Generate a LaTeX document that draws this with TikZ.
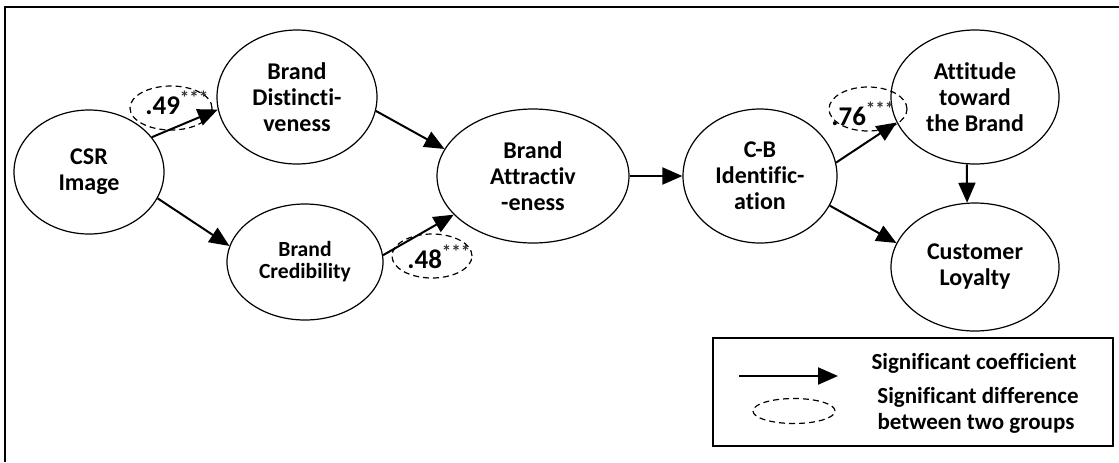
\documentclass[tikz,border=0pt]{standalone}
\usepackage{fontspec}
\setmainfont[Ligatures=NoCommon]{Carlito}
\usetikzlibrary{shapes.geometric,arrows.meta}

\tikzset{
  construct/.style={draw, ellipse, line width=0.6pt, align=center, inner sep=0pt,
    font=\bfseries\fontsize{12}{13}\selectfont},
  path/.style={line width=1pt, -{Triangle[length=10pt,width=8.5pt]}},
  diff/.style={draw, ellipse, dashed, line width=0.6pt, dash pattern=on 3pt off 2pt, inner sep=0pt},
  coef/.style={font=\bfseries\fontsize{13.5}{14}\selectfont, inner sep=0pt, anchor=base west},
  legendtext/.style={font=\bfseries\fontsize{11.5}{13}\selectfont, inner sep=0pt}
}
\newcommand{\stars}{\raisebox{5pt}{\color{black!80}\fontsize{9.5}{9.5}\selectfont ***}}

\begin{document}
\begin{tikzpicture}[x=0.5pt,y=-0.5pt]
\useasboundingbox (0,0) rectangle (1119,462);

% frame
\draw[line width=1pt] (1119,7) -| (5,462);

% constructs
\node[construct, minimum width=75pt, minimum height=62pt] (csr) at (89,172) {CSR\\Image};
\node[construct, minimum width=80pt, minimum height=67pt] (dist) at (297,97) {Brand\\Distincti-\\veness};
\node[construct, minimum width=78pt, minimum height=58pt, font=\bfseries\fontsize{10.8}{11}\selectfont] (cred) at (305,262) {Brand\\Credibility};
\node[construct, minimum width=96pt, minimum height=67pt] (attr) at (533,176) {Brand\\Attractiv\\-eness};
\node[construct, minimum width=77pt, minimum height=67pt] (cb) at (760,176) {C-B\\Identific-\\ation};
\node[construct, minimum width=84pt, minimum height=67pt] (att) at (975,97) {Attitude\\toward\\the Brand};
\node[construct, minimum width=84pt, minimum height=64pt] (loyal) at (975,267) {Customer\\Loyalty};

% paths
\draw[path] (csr.29) -- (dist.189);
\draw[path] (csr.-21) -- (cred.168);
\draw[path] (dist.-10) -- (attr.163);
\draw[path] (cred.5) -- (attr.206);
\draw[path] (attr.east) -- (cb.west);
\draw[path] (cb.10) -- (att.198);
\draw[path] (cb.-23) -- (loyal.163);
\draw[path] (att.263) -- (loyal.97);

% group differences
\node[diff, minimum width=41pt, minimum height=22pt] (d49) at (171,108) {};
\node[diff, minimum width=40pt, minimum height=22pt] (d48) at (432,256) {};
\node[diff, minimum width=39pt, minimum height=22pt] (d76) at (868,109) {};
\node[coef] (c49) at (145,114) {.49\stars};
\node[coef] (c48) at (407,268) {.48\stars};
\node[coef] (c76) at (831,125) {.76\stars};

% legend
\node[draw, line width=0.7pt, minimum width=200pt, minimum height=54pt, inner sep=0pt] (legend) at (913,392) {};
\coordinate (la) at (739,376);
\coordinate (lb) at (838,376);
\draw[path, line width=1.1pt] (la) -- (lb);
\node[diff, minimum width=41pt, minimum height=12.5pt] (ld) at (794,411) {};
\node[legendtext] (t1) at (974,363) {Significant coefficient};
\node[legendtext] (t2) at (978,397) {Significant difference};
\node[legendtext] (t3) at (976,423) {between two groups};
\end{tikzpicture}
\end{document}
